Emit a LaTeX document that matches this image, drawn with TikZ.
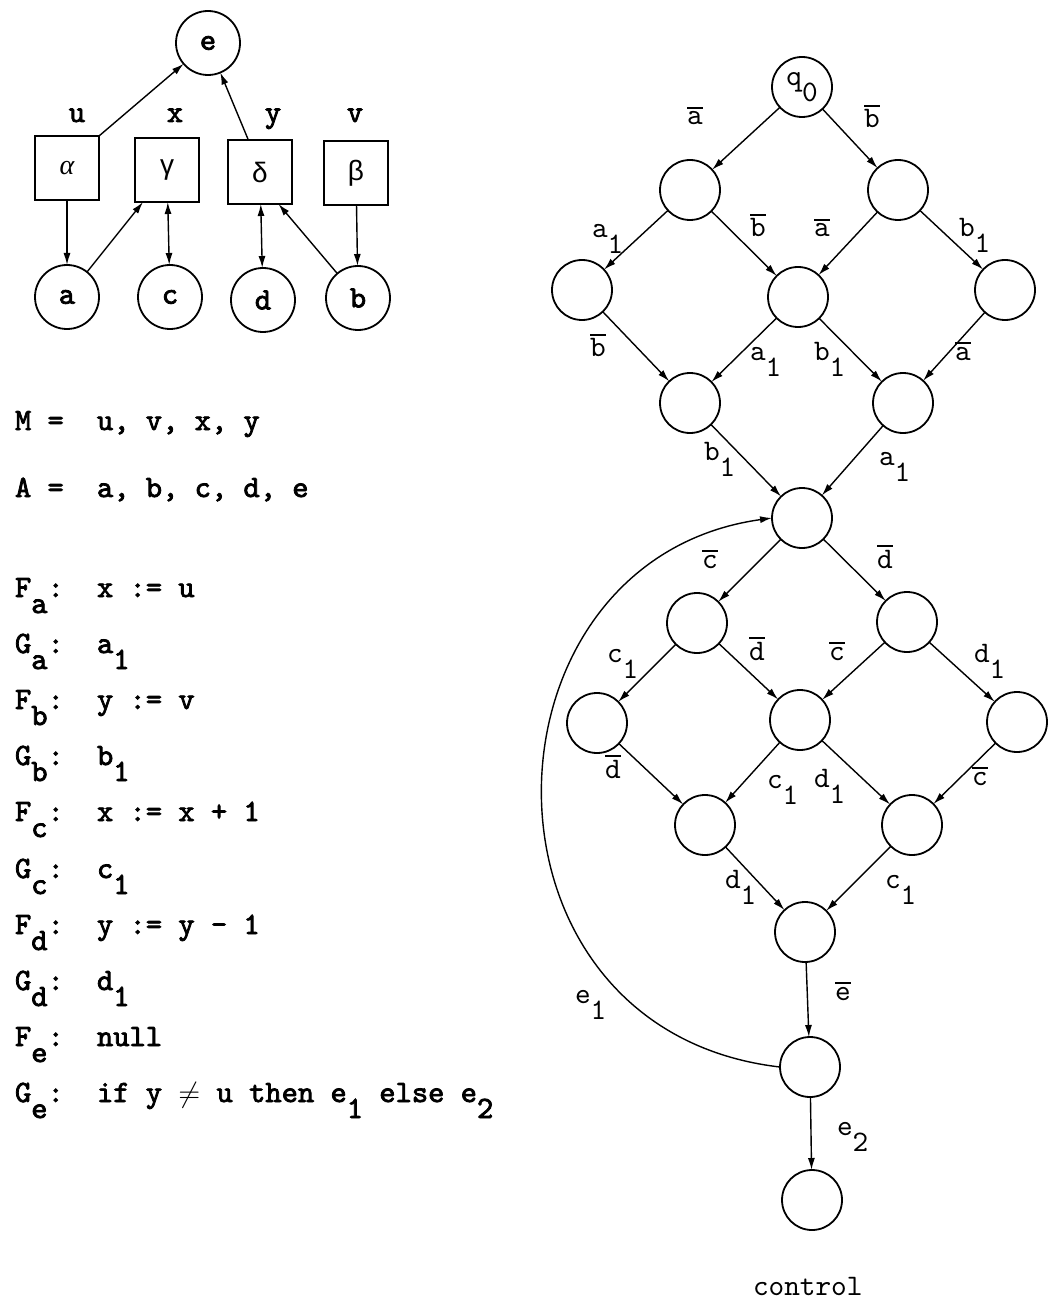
\documentclass[tikz,border=0pt]{standalone}
\usepackage{fontspec}
\setmonofont{lmmono10-regular.otf}[BoldFont=lmmono10-regular.otf,BoldFeatures={FakeBold=2.5}]
\newfontfamily\greeksans{Liberation Sans}
\newfontfamily\greekserif{Liberation Serif}
\usetikzlibrary{arrows.meta}
\frenchspacing
\newcommand{\sub}[1]{\raisebox{-8pt}{#1}}
\newcommand{\ov}[1]{\vbox{\hrule height 0.9pt\kern 1.6pt\hbox{#1}}}

\begin{document}
\begin{tikzpicture}[x=0.5pt,y=-0.5pt,inner sep=0pt,outer sep=0pt,
font=\ttfamily\fontsize{14.9}{17}\selectfont,
arr/.style={-{Latex[length=6pt,width=3.5pt]},line width=0.7pt},
darr/.style={{Latex[length=6pt,width=3.5pt]}-{Latex[length=6pt,width=3.5pt]},line width=0.7pt},
state/.style={draw,circle,minimum size=30pt,line width=0.9pt},
vert/.style={draw,circle,minimum size=32pt,line width=0.9pt,font=\ttfamily\bfseries\fontsize{15.5}{18}\selectfont},
var/.style={draw,rectangle,minimum width=32pt,minimum height=32pt,line width=0.7pt,font=\greeksans\fontsize{14}{16}\selectfont},
lbl/.style={anchor=base west},
txt/.style={anchor=base west,font=\ttfamily\bfseries\fontsize{15.5}{18}\selectfont}]

\useasboundingbox[fill=white] (0,0) rectangle (1053,1299);

% memory / actor graph
\node[vert] (e) at (208,43) {e};
\node[var] (alpha) at (67,168) {\greekserif\itshape α};
\node[var] (gamma) at (167,170) {γ};
\node[var] (delta) at (260,172) {δ};
\node[var] (beta) at (356,173) {β};
\node[txt,anchor=base] (lu) at (77,122) {u};
\node[txt,anchor=base] (lx) at (175,122) {x};
\node[txt,anchor=base] (ly) at (273,122) {y};
\node[txt,anchor=base] (lv) at (355,122) {v};
\node[vert] (a) at (67,297) {a};
\node[vert] (c) at (170,297) {c};
\node[vert] (d) at (263,300) {d};
\node[vert] (b) at (358,298) {b};

\draw[arr] (alpha.north east) -- (e);
\draw[arr] (delta.110) -- (e);
\draw[arr] (alpha) -- (a);
\draw[arr] (a) -- ([xshift=4pt]gamma.south west);
\draw[darr] (gamma) -- (c);
\draw[darr] (delta) -- (d);
\draw[arr] (b) -- (delta.-60);
\draw[arr] (beta) -- (b);

% definitions
\node[txt] (mlab) at (15,430) {M =};
\node[txt] (mval) at (97,430) {u, v, x, y};
\node[txt] (alab) at (15,497) {A =};
\node[txt] (aval) at (97,497) {a, b, c, d, e};

\node[txt] (fa) at (15,597) {F\sub{a}:};
\node[txt] (fav) at (97,597) {x := u};
\node[txt] (ga) at (15,653) {G\sub{a}:};
\node[txt] (gav) at (97,653) {a\sub{1}};
\node[txt] (fb) at (15,709) {F\sub{b}:};
\node[txt] (fbv) at (97,709) {y := v};
\node[txt] (gb) at (15,765) {G\sub{b}:};
\node[txt] (gbv) at (97,765) {b\sub{1}};
\node[txt] (fc) at (15,821) {F\sub{c}:};
\node[txt] (fcv) at (97,821) {x := x + 1};
\node[txt] (gc) at (15,878) {G\sub{c}:};
\node[txt] (gcv) at (97,878) {c\sub{1}};
\node[txt] (fd) at (15,934) {F\sub{d}:};
\node[txt] (fdv) at (97,934) {y := y - 1};
\node[txt] (gd) at (15,990) {G\sub{d}:};
\node[txt] (gdv) at (97,990) {d\sub{1}};
\node[txt] (fe) at (15,1046) {F\sub{e}:};
\node[txt] (fev) at (97,1046) {null};
\node[txt] (ge) at (15,1102) {G\sub{e}:};
\node[txt] (gev) at (97,1102) {if y $\neq$ u then e\sub{1} else e\sub{2}};

% control graph
\node[state] (n0) at (802,87) {q\sub{0}};
\node[state] (n1l) at (690,190) {};
\node[state] (n1r) at (898,190) {};
\node[state] (n2l) at (582,290) {};
\node[state] (n2m) at (798,297) {};
\node[state] (n2r) at (1005,290) {};
\node[state] (n3l) at (690,403) {};
\node[state] (n3r) at (903,403) {};
\node[state] (n4) at (802,518) {};
\node[state] (n5l) at (697,623) {};
\node[state] (n5r) at (907,622) {};
\node[state] (n6l) at (597,723) {};
\node[state] (n6m) at (800,720) {};
\node[state] (n6r) at (1017,722) {};
\node[state] (n7l) at (705,825) {};
\node[state] (n7r) at (912,825) {};
\node[state] (n8) at (805,932) {};
\node[state] (n9) at (810,1067) {};
\node[state] (n10) at (812,1200) {};

\draw[arr] (n0) -- (n1l) node[lbl] (k1) at (687,125) {\ov{a}};
\draw[arr] (n0) -- (n1r) node[lbl] (k2) at (864,128) {\ov{b}};
\draw[arr] (n1l) -- (n2l) node[lbl] (k3) at (592,238) {a\sub{1}};
\draw[arr] (n1l) -- (n2m) node[lbl] (k4) at (750,237) {\ov{b}};
\draw[arr] (n1r) -- (n2m) node[lbl] (k5) at (814,237) {\ov{a}};
\draw[arr] (n1r) -- (n2r) node[lbl] (k6) at (959,237) {b\sub{1}};
\draw[arr] (n2l) -- (n3l) node[lbl] (k7) at (590,357) {\ov{b}};
\draw[arr] (n2m) -- (n3l) node[lbl] (k8) at (750,360) {a\sub{1}};
\draw[arr] (n2m) -- (n3r) node[lbl] (k9) at (814,360) {b\sub{1}};
\draw[arr] (n2r) -- (n3r) node[lbl] (k10) at (955,360) {\ov{a}};
\draw[arr] (n3l) -- (n4) node[lbl] (k11) at (704,460) {b\sub{1}};
\draw[arr] (n3r) -- (n4) node[lbl] (k12) at (879,465) {a\sub{1}};

\draw[arr] (n4) -- (n5l) node[lbl] (k13) at (702,568) {\ov{c}};
\draw[arr] (n4) -- (n5r) node[lbl] (k14) at (877,568) {\ov{d}};
\draw[arr] (n5l) -- (n6l) node[lbl] (k15) at (607,662) {c\sub{1}};
\draw[arr] (n5l) -- (n6m) node[lbl] (k16) at (749,660) {\ov{d}};
\draw[arr] (n5r) -- (n6m) node[lbl] (k17) at (829,660) {\ov{c}};
\draw[arr] (n5r) -- (n6r) node[lbl] (k18) at (974,662) {d\sub{1}};
\draw[arr] (n6l) -- (n7l) node[lbl] (k19) at (605,778) {\ov{d}};
\draw[arr] (n6m) -- (n7l) node[lbl] (k20) at (767,788) {c\sub{1}};
\draw[arr] (n6m) -- (n7r) node[lbl] (k21) at (814,787) {d\sub{1}};
\draw[arr] (n6r) -- (n7r) node[lbl] (k22) at (972,785) {\ov{c}};
\draw[arr] (n7l) -- (n8) node[lbl] (k23) at (725,888) {d\sub{1}};
\draw[arr] (n7r) -- (n8) node[lbl] (k24) at (885,888) {c\sub{1}};

\draw[arr] (n8) -- (n9) node[lbl] (k25) at (835,1000) {\ov{e}};
\draw[arr] (n9) -- (n10) node[lbl] (k26) at (837,1135) {e\sub{2}};
\draw[arr] (n9.west) .. controls (460,1030) and (470,560) .. (n4.west) node[lbl] (k27) at (575,1003) {e\sub{1}};

\node[lbl] (ctl) at (753,1295) {control};
\end{tikzpicture}
\end{document}
